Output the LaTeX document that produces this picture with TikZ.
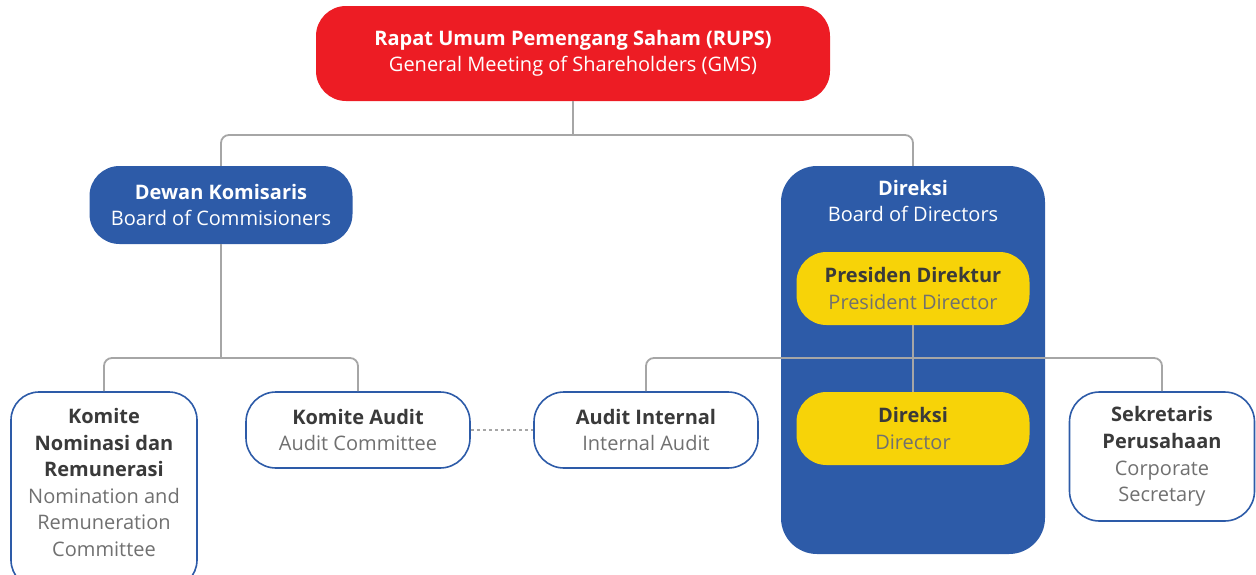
\documentclass[tikz,border=0pt]{standalone}
\usepackage{fontspec}
\setmainfont{Open Sans}
\definecolor{rred}{HTML}{ED1C24}
\definecolor{bblue}{HTML}{2D5BA8}
\definecolor{yyel}{HTML}{F7D308}
\definecolor{dtxt}{HTML}{3A3A3A}
\definecolor{gtxt}{HTML}{707070}
\definecolor{lline}{HTML}{A6A6A6}
\begin{document}
\begin{tikzpicture}[x=1pt,y=-1pt,
  every node/.style={font=\fontsize{20}{26.6}\selectfont, align=center, inner sep=0pt},
  boxbase/.style={rectangle, rounded corners=30pt},
  redbox/.style={boxbase, fill=rred, text=white},
  bluebox/.style={boxbase, fill=bblue, text=white},
  yelbox/.style={boxbase, fill=yyel, minimum width=233pt, minimum height=73pt},
  whitebox/.style={boxbase, draw=bblue, line width=1.6pt, fill=white},
  conn/.style={draw=lline, line width=1.8pt, rounded corners=8pt},
  dotconn/.style={draw=lline, line width=1.8pt, dash pattern=on 3pt off 3pt}
]
\useasboundingbox (0,0) rectangle (1256,574);
% big Direksi container
\node[bluebox, rounded corners=36pt, minimum width=264pt, minimum height=388pt] (dirbox) at (913,360) {};
\node[text=white] (dir) at (913,201) {\textbf{Direksi}\\Board of Directors};
% top
\node[redbox, minimum width=514pt, minimum height=95pt] (rups) at (573,53.5)
  {\textbf{Rapat Umum Pemengang Saham (RUPS)}\\General Meeting of Shareholders (GMS)};
\node[bluebox, minimum width=263pt, minimum height=78pt] (dk) at (221,205)
  {\textbf{Dewan Komisaris}\\Board of Commisioners};
% yellow
\node[yelbox] (pd) at (913,288.5)
  {\textcolor{dtxt}{\textbf{Presiden Direktur}}\\\textcolor{gtxt}{President Director}};
\node[yelbox] (dd) at (913,428.5)
  {\textcolor{dtxt}{\textbf{Direksi}}\\\textcolor{gtxt}{Director}};
% white boxes
\node[whitebox, minimum width=186pt, minimum height=196pt, rounded corners=28pt] (kn) at (104,490) {};
\node (knt) at (104,482.5)
  {\textcolor{dtxt}{\textbf{Komite}}\\\textcolor{dtxt}{\textbf{Nominasi dan}}\\\textcolor{dtxt}{\textbf{Remunerasi}}\\\textcolor{gtxt}{Nomination and}\\\textcolor{gtxt}{Remuneration}\\\textcolor{gtxt}{Committee}};
\node[whitebox, minimum width=224pt, minimum height=76pt] (ka) at (358,430)
  {\textcolor{dtxt}{\textbf{Komite Audit}}\\\textcolor{gtxt}{Audit Committee}};
\node[whitebox, minimum width=224pt, minimum height=76pt] (ai) at (646,430)
  {\textcolor{dtxt}{\textbf{Audit Internal}}\\\textcolor{gtxt}{Internal Audit}};
\node[whitebox, minimum width=185pt, minimum height=129pt] (sp) at (1162,456.5)
  {\textcolor{dtxt}{\textbf{Sekretaris}}\\\textcolor{dtxt}{\textbf{Perusahaan}}\\\textcolor{gtxt}{Corporate}\\\textcolor{gtxt}{Secretary}};
% connectors
\coordinate (j1) at (573,135);
\draw[conn] (rups.south) -- (j1);
\draw[conn] (dk.north) -- (dk.north |- j1) -- (dirbox.north |- j1) -- (dirbox.north);
\coordinate (j2) at (221,358);
\draw[conn] (dk.south) -- (j2);
\draw[conn] (kn.north) -- (kn.north |- j2) -- (ka.north |- j2) -- (ka.north);
\coordinate (j3) at (913,358);
\draw[conn] (ai.north) -- (ai.north |- j3) -- (sp.north |- j3) -- (sp.north);
\draw[conn] (pd.south) -- (dd.north);
\draw[dotconn] (ka.east) -- (ai.west);
\end{tikzpicture}
\end{document}
